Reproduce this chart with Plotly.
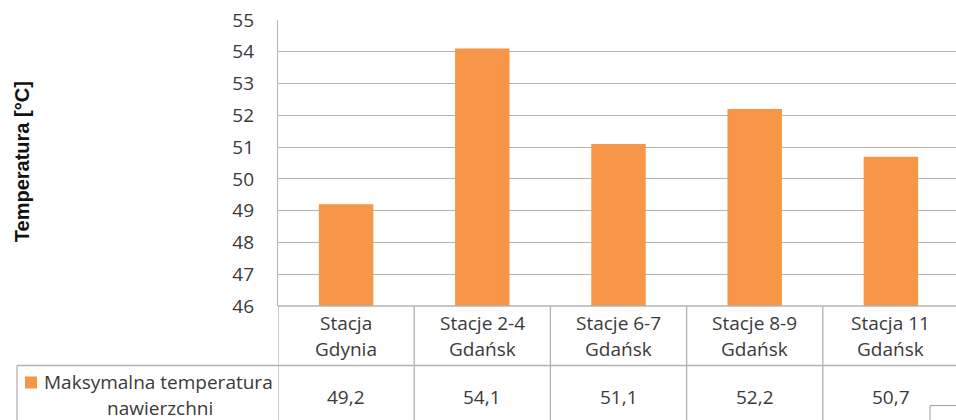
import plotly.graph_objects as go

# ---- data ----
categories = ["Stacja Gdynia", "Stacje 2-4 Gdańsk", "Stacje 6-7 Gdańsk", "Stacje 8-9 Gdańsk", "Stacja 11 Gdańsk"]
values = [49.2, 54.1, 51.1, 52.2, 50.7]
series_name = "Maksymalna temperatura nawierzchni"
y_ticks = [46, 47, 48, 49, 50, 51, 52, 53, 54, 55]
y_title = "Temperatura [°C]"

# ---- layout geometry (pixels) ----
W, H = 956, 420
L, T, B = 278, 20, 305.6
PW, PH = W - L, B - T
BAR_COLOR = "#F79646"
LINE = "#B3B3B3"
TXT = "#3A3A3A"
FONT = "Open Sans"
FS = 19


def px(x):
    return (x - L) / PW


def py(y):
    return (B - y) / PH


xs = list(range(len(categories)))
fig = go.Figure(go.Bar(x=xs, y=values, width=0.4, marker=dict(color=BAR_COLOR, line=dict(width=0)),
                       showlegend=False, hoverinfo="skip"))

col_w = 136.2
span = PW / col_w

fig.update_layout(
    width=W, height=H,
    margin=dict(l=L, r=0, t=T, b=H - B, pad=0),
    paper_bgcolor="white", plot_bgcolor="white",
    font=dict(family=FONT, size=FS, color=TXT),
    xaxis=dict(range=[-0.5, -0.5 + span], showticklabels=False, showgrid=False, zeroline=False,
               showline=False, ticks=""),
    yaxis=dict(range=[46, 55], tickvals=y_ticks, ticktext=[str(v) for v in y_ticks],
               showgrid=True, gridcolor=LINE, gridwidth=1.3, zeroline=False,
               showline=True, linecolor=LINE, linewidth=1.3, ticks="", ticklabelstandoff=19,
               tickfont=dict(family=FONT, size=FS, color=TXT)),
)

shapes = []
# x-axis baseline (table top)
shapes.append(dict(type="line", xref="paper", yref="paper", x0=0, x1=1, y0=0, y1=0,
                   line=dict(color=LINE, width=1.3)))
# vertical column separators in table
for i in range(len(categories) + 1):
    shapes.append(dict(type="line", xref="x", yref="paper", x0=-0.5 + i, x1=-0.5 + i,
                       y0=0, y1=py(H + 2), line=dict(color=LINE, width=1.3)))
# horizontal row separator
shapes.append(dict(type="line", xref="paper", yref="paper", x0=px(17), x1=1, y0=py(365), y1=py(365),
                   line=dict(color=LINE, width=1.3)))
# left border of series row
shapes.append(dict(type="line", xref="paper", yref="paper", x0=px(17), x1=px(17), y0=py(365), y1=py(H + 2),
                   line=dict(color=LINE, width=1.3)))
# legend key
shapes.append(dict(type="rect", xref="paper", yref="paper", x0=px(25), x1=px(37), y0=py(388), y1=py(376),
                   fillcolor=BAR_COLOR, line=dict(width=0)))
# small box bottom right
shapes.append(dict(type="rect", xref="paper", yref="paper", x0=px(930), x1=px(W + 5), y0=py(405), y1=py(H + 5),
                   fillcolor="white", line=dict(color="#A0A0A0", width=1)))
fig.update_layout(shapes=shapes)

ann = []
for i, (c, v) in enumerate(zip(categories, values)):
    l1, l2 = c.rsplit(" ", 1)
    ann.append(dict(x=i, y=py(323), xref="x", yref="paper", text=l1, showarrow=False,
                    xanchor="center", yanchor="middle"))
    ann.append(dict(x=i, y=py(349), xref="x", yref="paper", text=l2, showarrow=False,
                    xanchor="center", yanchor="middle"))
    ann.append(dict(x=i, y=py(396), xref="x", yref="paper", text=f"{v:.1f}".replace(".", ","),
                    showarrow=False, xanchor="center", yanchor="middle"))

s1, s2 = series_name.rsplit(" ", 1)
ann.append(dict(x=px(42), y=py(381.5), xref="paper", yref="paper", text=s1, showarrow=False,
                xanchor="left", yanchor="middle"))
ann.append(dict(x=px(160), y=py(407.5), xref="paper", yref="paper", text=s2, showarrow=False,
                xanchor="center", yanchor="middle"))
ann.append(dict(x=px(22), y=py(162), xref="paper", yref="paper", text=f"<b>{y_title}</b>", showarrow=False,
                textangle=-90, xanchor="center", yanchor="middle",
                font=dict(family="Liberation Sans", size=20, color="#111111")))
fig.update_layout(annotations=ann)

fig.write_html("out.html")
